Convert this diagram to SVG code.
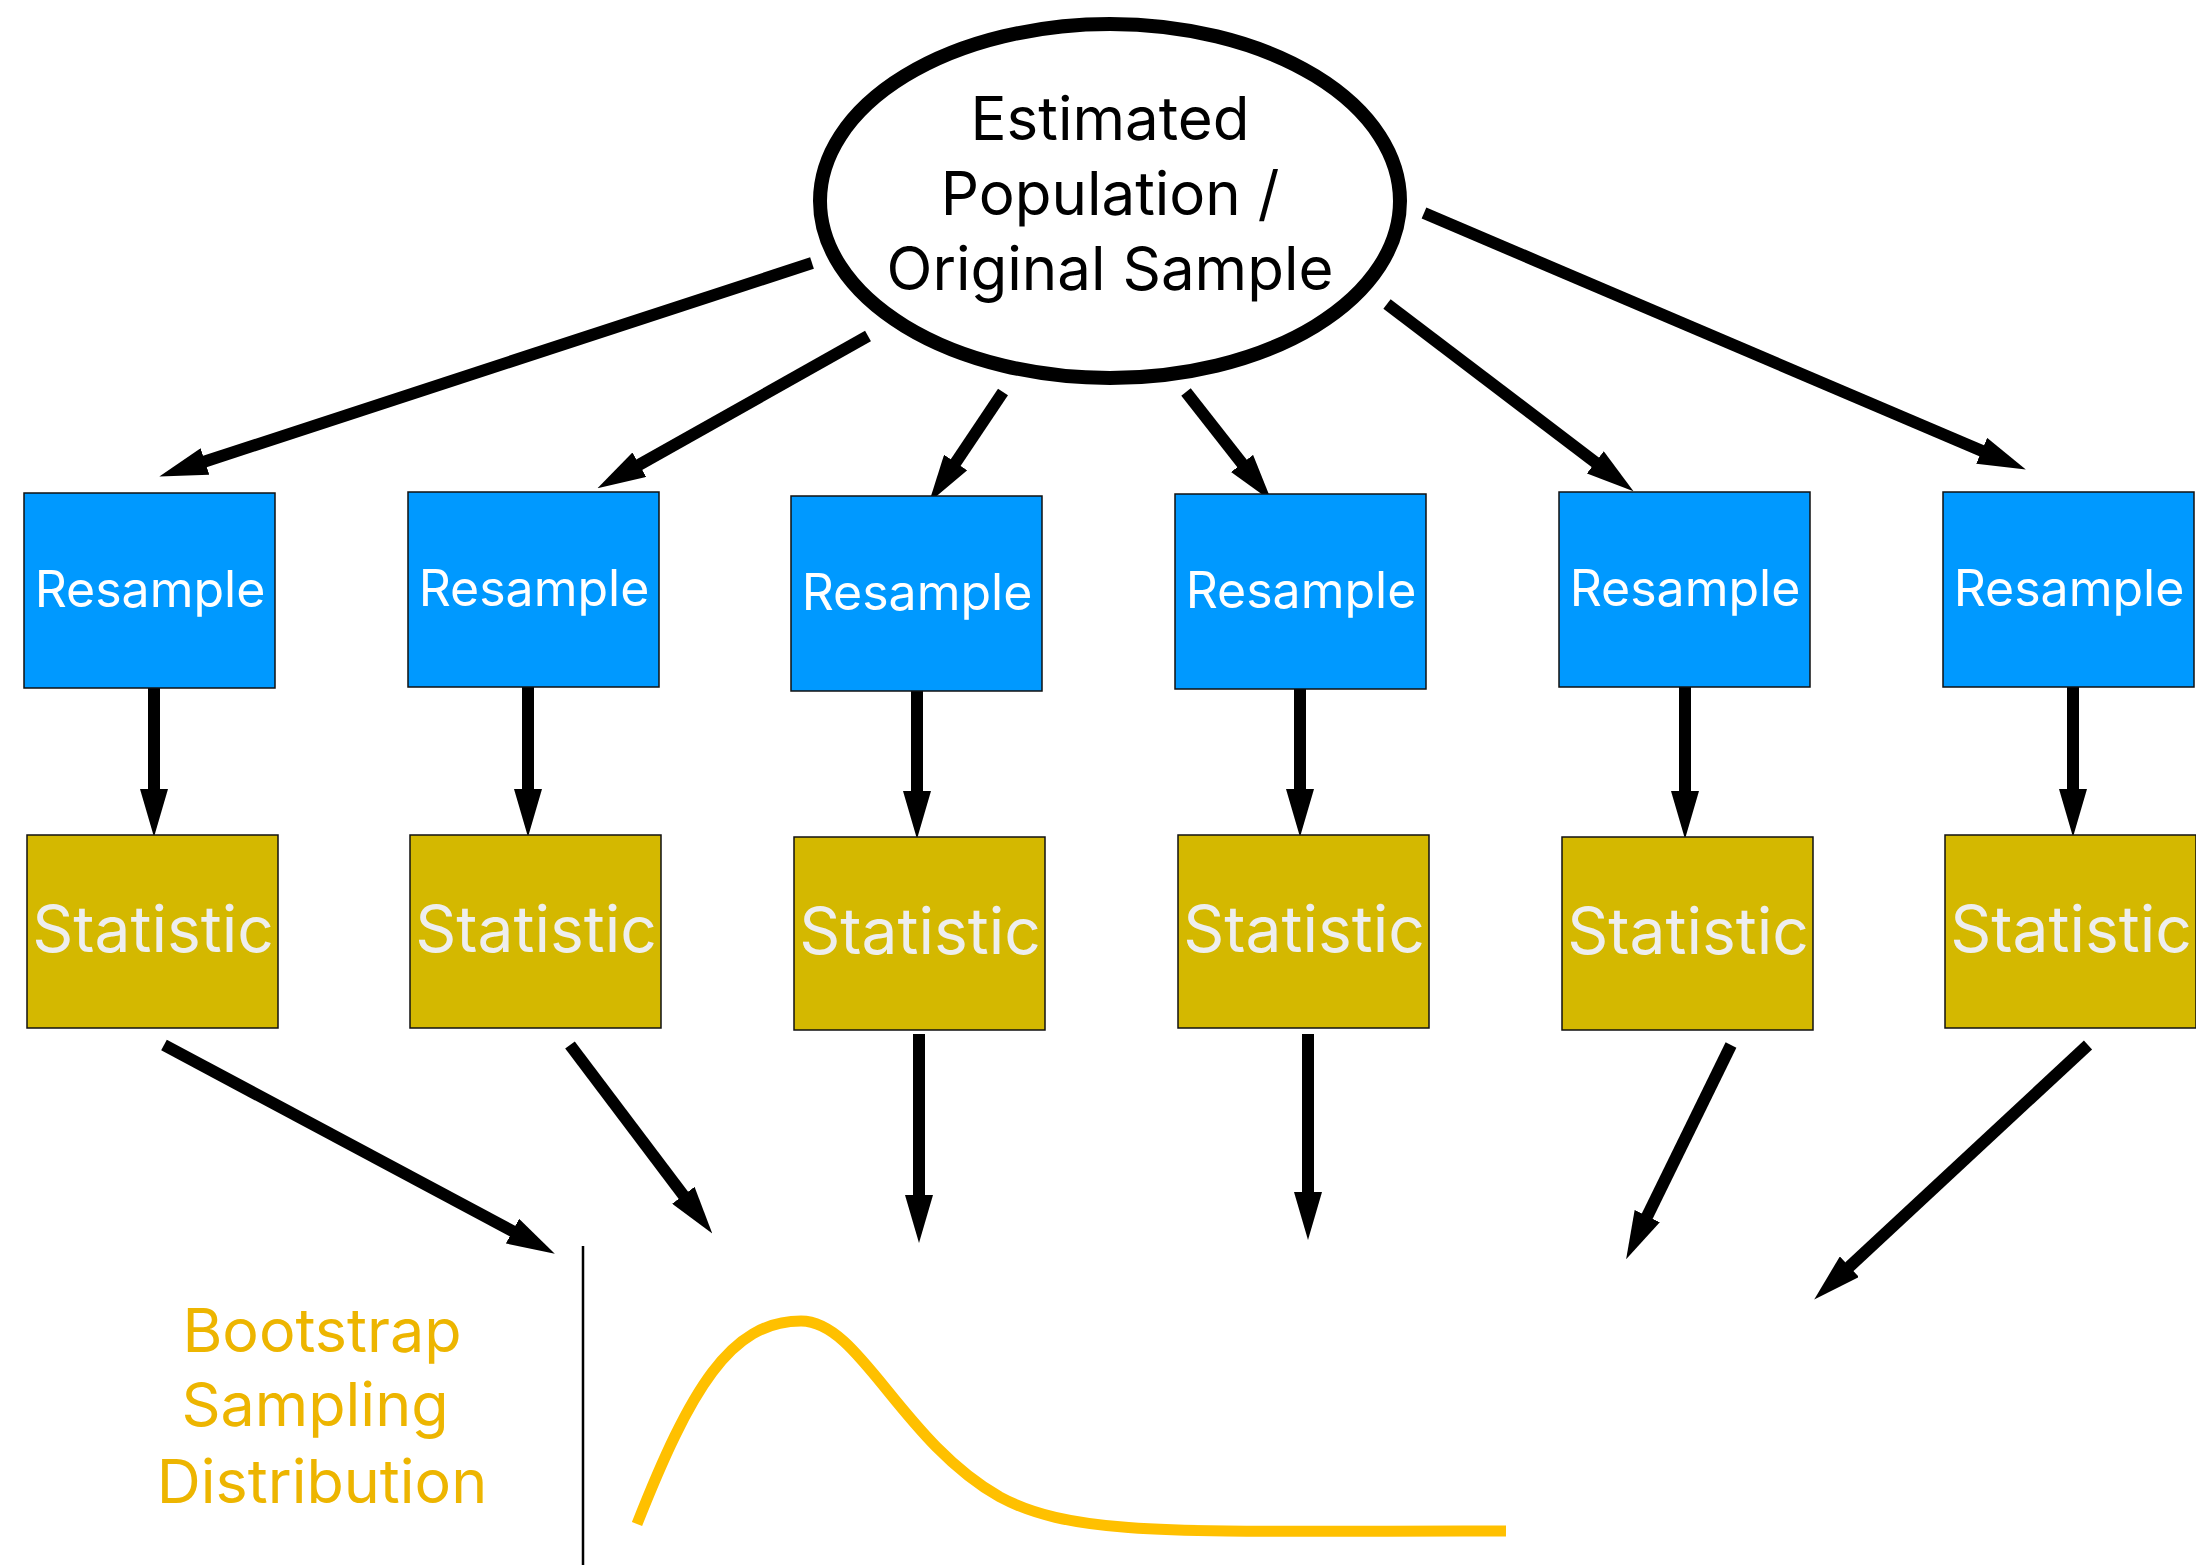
<svg xmlns="http://www.w3.org/2000/svg" width="2196" height="1565" viewBox="0 0 2196 1565">
<style>
.res{fill:#0099FF;stroke:#111;stroke-width:1.5}
.stat{fill:#D4B800;stroke:#111;stroke-width:1.5}
.rt{font-family:Inter,"Open Sans","Liberation Sans",sans-serif;font-size:50px;fill:#fff;text-anchor:middle}
.st{font-family:Inter,"Open Sans","Liberation Sans",sans-serif;font-size:64px;fill:#eeeeee;text-anchor:middle}
.et{font-family:Inter,"Open Sans","Liberation Sans",sans-serif;font-size:60px;fill:#000;text-anchor:middle}
.bt{font-family:Inter,"Open Sans","Liberation Sans",sans-serif;font-size:61px;fill:#EDB500;text-anchor:middle}
.c{stroke:#000;stroke-width:12;fill:none;marker-end:url(#ah)}
</style>
<defs>
<marker id="ah" markerUnits="userSpaceOnUse" markerWidth="48" markerHeight="28" refX="21" refY="14" orient="auto">
<path d="M0,0 L48,14 L0,28 Z" fill="#000"/>
</marker>
</defs>
<rect width="2196" height="1565" fill="#fff"/>
<g id="connectors">
<line class="c" x1="812" y1="263" x2="185" y2="468"/>
<line class="c" x1="868" y1="336" x2="621" y2="475"/>
<line class="c" x1="1003" y1="392" x2="944" y2="480"/>
<line class="c" x1="1186" y1="392" x2="1255" y2="480"/>
<line class="c" x1="1387" y1="304" x2="1612" y2="475"/>
<line class="c" x1="1424" y1="213" x2="2001" y2="459"/>
<line class="c" x1="154" y1="688" x2="154" y2="810"/>
<line class="c" x1="528" y1="687" x2="528" y2="810"/>
<line class="c" x1="917" y1="691" x2="917" y2="812"/>
<line class="c" x1="1300" y1="689" x2="1300" y2="810"/>
<line class="c" x1="1685" y1="687" x2="1685" y2="812"/>
<line class="c" x1="2073" y1="687" x2="2073" y2="810"/>
<line class="c" x1="164" y1="1045" x2="531" y2="1241"/>
<line class="c" x1="570" y1="1045" x2="696" y2="1212"/>
<line class="c" x1="919" y1="1034" x2="919" y2="1216"/>
<line class="c" x1="1308" y1="1034" x2="1308" y2="1213"/>
<line class="c" x1="1731" y1="1045" x2="1638" y2="1235"/>
<line class="c" x1="2088" y1="1045" x2="1834" y2="1281"/>
</g>
<g id="population">
<ellipse cx="1110" cy="201" rx="290" ry="177" fill="#fff" stroke="#000" stroke-width="14"/>
<text class="et" x="1110" y="140">Estimated</text>
<text class="et" x="1110" y="215">Population /</text>
<text class="et" x="1110" y="290">Original Sample</text>
</g>
<g id="resample1"><rect class="res" x="24" y="493" width="251" height="195"/><text class="rt" x="150" y="607">Resample</text></g>
<g id="resample2"><rect class="res" x="408" y="492" width="251" height="195"/><text class="rt" x="534" y="606">Resample</text></g>
<g id="resample3"><rect class="res" x="791" y="496" width="251" height="195"/><text class="rt" x="917" y="610">Resample</text></g>
<g id="resample4"><rect class="res" x="1175" y="494" width="251" height="195"/><text class="rt" x="1301" y="608">Resample</text></g>
<g id="resample5"><rect class="res" x="1559" y="492" width="251" height="195"/><text class="rt" x="1685" y="606">Resample</text></g>
<g id="resample6"><rect class="res" x="1943" y="492" width="251" height="195"/><text class="rt" x="2069" y="606">Resample</text></g>
<g id="statistic1"><rect class="stat" x="27" y="835" width="251" height="193"/><text class="st" x="153" y="952">Statistic</text></g>
<g id="statistic2"><rect class="stat" x="410" y="835" width="251" height="193"/><text class="st" x="536" y="952">Statistic</text></g>
<g id="statistic3"><rect class="stat" x="794" y="837" width="251" height="193"/><text class="st" x="920" y="954">Statistic</text></g>
<g id="statistic4"><rect class="stat" x="1178" y="835" width="251" height="193"/><text class="st" x="1304" y="952">Statistic</text></g>
<g id="statistic5"><rect class="stat" x="1562" y="837" width="251" height="193"/><text class="st" x="1688" y="954">Statistic</text></g>
<g id="statistic6"><rect class="stat" x="1945" y="835" width="251" height="193"/><text class="st" x="2071" y="952">Statistic</text></g>
<g id="distribution">
<line x1="583" y1="1246" x2="583" y2="1565" stroke="#000" stroke-width="2.5"/>
<path d="M637,1524 C690,1390 730,1321 801,1321 C860,1321 900,1440 1000,1497 C1080,1540 1200,1530 1506,1531" fill="none" stroke="#FFC000" stroke-width="11"/>
<text class="bt" x="322" y="1352">Bootstrap</text>
<text class="bt" x="315" y="1426">Sampling</text>
<text class="bt" x="322" y="1503">Distribution</text>
</g>
</svg>
